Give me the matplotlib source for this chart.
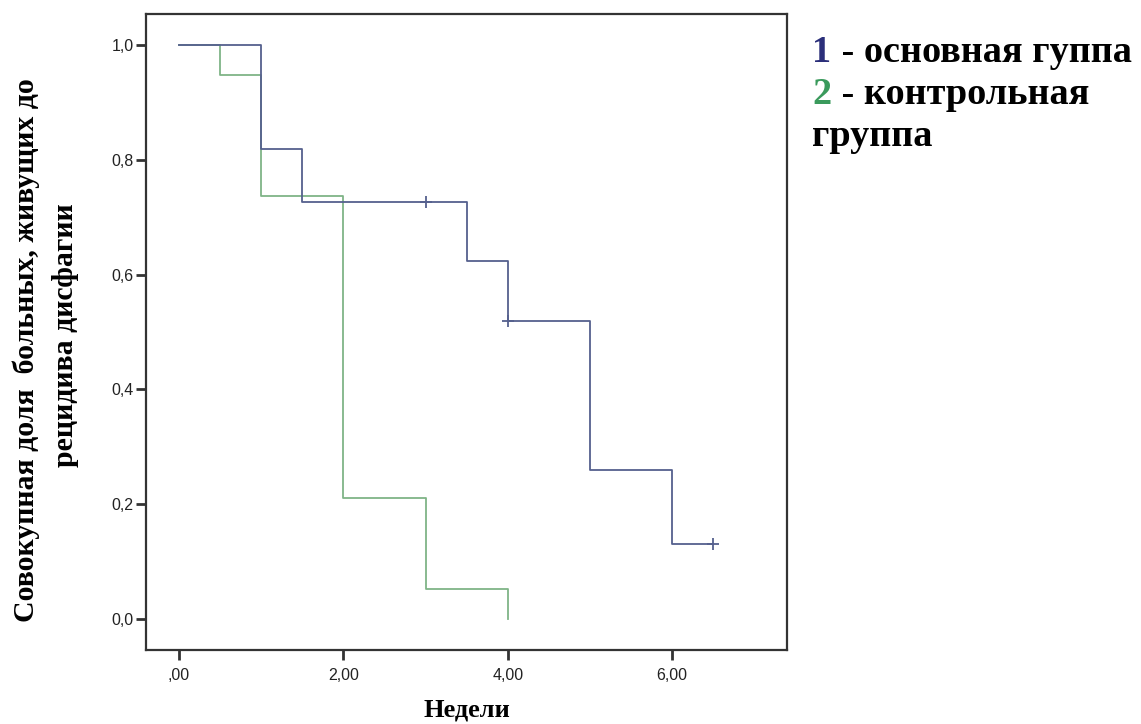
import numpy as np
import matplotlib
matplotlib.use("Agg")
import matplotlib.pyplot as plt

# Kaplan-Meier steps
main_t = [0.0, 1.0, 1.5, 3.5, 4.0, 5.0, 6.0, 6.5]
main_s = [1.0, 0.818, 0.727, 0.623, 0.519, 0.260, 0.130, 0.130]
main_cens_t = [3.0, 4.0, 6.5]
main_cens_s = [0.727, 0.519, 0.130]

ctrl_t = [0.0, 0.5, 1.0, 2.0, 3.0, 4.0]
ctrl_s = [1.0, 0.947, 0.737, 0.211, 0.053, 0.0]

xticks = [0, 2, 4, 6]
xtick_labels = [",00", "2,00", "4,00", "6,00"]
yticks = [0.0, 0.2, 0.4, 0.6, 0.8, 1.0]
ytick_labels = ["0,0", "0,2", "0,4", "0,6", "0,8", "1,0"]

BLUE = "#55608e"
GREEN = "#7fb487"
SERIF = "Liberation Serif"

fig = plt.figure(figsize=(11.41, 7.24), dpi=100)
ax = fig.add_axes([0.128, 0.1022, 0.562, 0.8785])

ax.step(ctrl_t, ctrl_s, where="post", color=GREEN, lw=1.3)
ax.step(main_t, main_s, where="post", color=BLUE, lw=1.3)
ax.plot(main_cens_t, main_cens_s, ls="none", marker="+", ms=9, mew=1.3, color=BLUE)

ax.set_xlim(-0.40, 7.40)
ax.set_ylim(-0.054, 1.054)
ax.set_xticks(xticks)
ax.set_xticklabels(xtick_labels)
ax.set_yticks(yticks)
ax.set_yticklabels(ytick_labels)
for lab in ax.get_xticklabels() + ax.get_yticklabels() :
	lab.set_fontfamily("Liberation Sans")
	lab.set_fontsize(11.5)
	lab.set_color("#222222")
ax.tick_params(axis="both", length=7, width=2, color="#333333")
ax.tick_params(axis="x", pad=6)
ax.tick_params(axis="y", pad=2)
for sp in ax.spines.values() :
	sp.set_linewidth(1.6)
	sp.set_color("#333333")

fig.text(0.409, 0.004, "Недели", family=SERIF, weight="bold", fontsize=19, ha="center", va="bottom")
# y label, two lines placed separately as in the source picture
ylab_kw = dict(family=SERIF, weight="bold", fontsize=21.5, rotation=90, ha="center", va="center")
fig.text(0.0228, 0.5166, "Совокупная доля  больных, живущих до", **ylab_kw)
fig.text(0.0578, 0.537, "рецидива дисфагии", **ylab_kw)

# legend-like notes at the right
fs = 27.5
t1 = fig.text(0.712, 1 - 62 / 724, "1", family=SERIF, weight="bold", fontsize=fs, color="#2b2f7a", va="baseline")
ax.annotate(" - основная гуппа", xy=(1, 0), xycoords=t1, va="bottom", family=SERIF, weight="bold", fontsize=fs, annotation_clip=False)
t2 = fig.text(0.712, 1 - 104 / 724, "2", family=SERIF, weight="bold", fontsize=fs, color="#3a9a5c", va="baseline")
ax.annotate(" - контрольная", xy=(1, 0), xycoords=t2, va="bottom", family=SERIF, weight="bold", fontsize=fs, annotation_clip=False)
fig.text(0.712, 1 - 146 / 724, "группа", family=SERIF, weight="bold", fontsize=fs, va="baseline")

fig.savefig("out.png", dpi=100)
